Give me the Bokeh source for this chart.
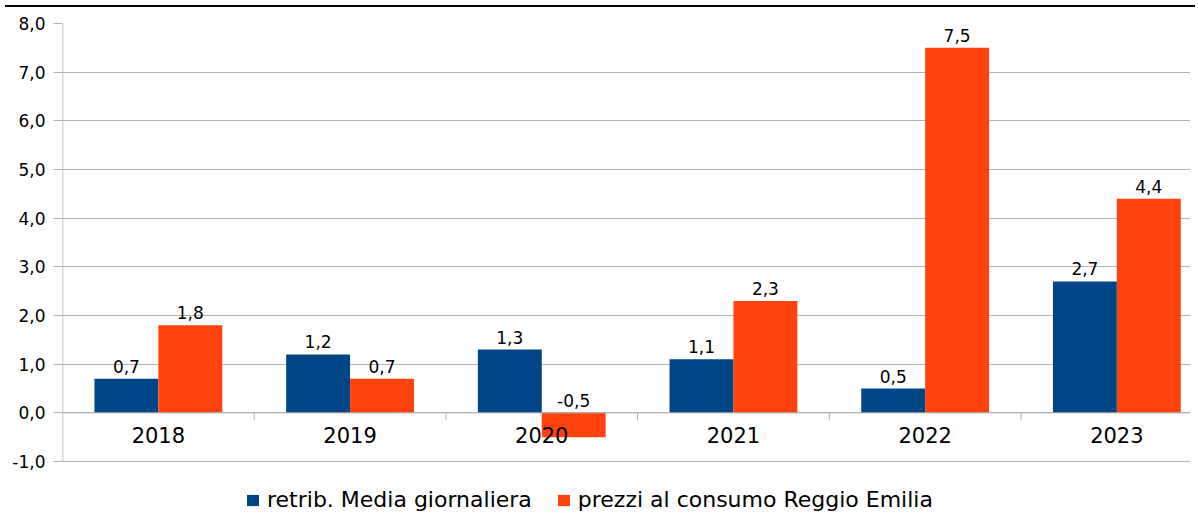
from bokeh.plotting import figure
from bokeh.models import ColumnDataSource, Legend, LegendItem, FixedTicker, Div
from bokeh.layouts import column
from bokeh.core.properties import value
from bokeh.embed import file_html
from bokeh.resources import INLINE

years = ["2018", "2019", "2020", "2021", "2022", "2023"]
retrib = [0.7, 1.2, 1.3, 1.1, 0.5, 2.7]
prezzi = [1.8, 0.7, -0.5, 2.3, 7.5, 4.4]
series_names = ["retrib. Media giornaliera", "prezzi al consumo Reggio Emilia"]
yticks = [-1, 0, 1, 2, 3, 4, 5, 6, 7, 8]

BLUE = "#004586"
ORANGE = "#ff420e"
GRID = "#b3b3b3"

idx = list(range(len(years)))
bw = 1 / 3
xb = [i + 0.5 - bw / 2 for i in idx]
xo = [i + 0.5 + bw / 2 for i in idx]

def fmt(v):
    return f"{v:.1f}".replace(".", ",")

src_b = ColumnDataSource(dict(x=xb, top=retrib, lab=[fmt(v) for v in retrib],
                              ly=[max(v, 0) for v in retrib]))
src_o = ColumnDataSource(dict(x=xo, top=prezzi, lab=[fmt(v) for v in prezzi],
                              ly=[max(v, 0) for v in prezzi]))
src_c = ColumnDataSource(dict(x=[i + 0.5 for i in idx], y=[-0.45] * len(years), t=years))

W = 1190
H = 510
LEFT = 62
TOP = 11
frame_w = W - LEFT
cat_px = 191.7
px_per_unit = 48.67
y_lo = 8 - (H - TOP) / px_per_unit

p = figure(width=W, height=H, output_backend="svg", toolbar_location=None,
           x_range=(0, frame_w / cat_px), y_range=(y_lo, 8), x_axis_type=None,
           min_border_left=LEFT, min_border_right=0, min_border_top=TOP,
           min_border_bottom=0)
p.outline_line_color = None
p.background_fill_color = "white"

p.ygrid.ticker = FixedTicker(ticks=yticks)
p.ygrid.grid_line_color = GRID
p.ygrid.grid_line_width = 1
p.xgrid.grid_line_color = None

yax = p.yaxis[0]
yax.ticker = FixedTicker(ticks=yticks)
yax.major_label_overrides = {t: fmt(float(t)) for t in yticks}
yax.axis_line_color = None
yax.major_tick_line_color = GRID
yax.major_tick_out = 9
yax.major_tick_in = 0
yax.minor_tick_line_color = None
yax.major_label_text_font = "DejaVu Sans"
yax.major_label_text_font_size = "17px"
yax.major_label_text_color = "black"
yax.major_label_standoff = 8

p.segment(x0=0, x1=0, y0=yticks[0], y1=yticks[-1], line_color=GRID, line_width=1.5)

rb = p.vbar(x="x", top="top", bottom=0, width=bw, source=src_b, fill_color=BLUE, line_color=None)
ro = p.vbar(x="x", top="top", bottom=0, width=bw, source=src_o, fill_color=ORANGE, line_color=None)

p.segment(x0=0, x1=len(years), y0=0, y1=0, line_color=GRID, line_width=1)
p.segment(x0=[i for i in idx[1:]], x1=[i for i in idx[1:]], y0=0, y1=-0.15,
          line_color=GRID, line_width=1)

for s in (src_b, src_o):
    p.text(x="x", y="ly", text="lab", source=s, text_align="center", text_baseline="bottom",
           y_offset=-6, text_font=value("DejaVu Sans"), text_font_size="17px", text_color="black")

p.text(x="x", y="y", text="t", source=src_c, text_align="center", text_baseline="middle",
       text_font=value("DejaVu Sans"), text_font_size="21px", text_color="black")

legend = Legend(items=[LegendItem(label=series_names[0], renderers=[rb]),
                       LegendItem(label=series_names[1], renderers=[ro])],
                orientation="horizontal", location=(183, 10))
legend.label_text_font = "DejaVu Sans"
legend.label_text_font_size = "22px"
legend.label_text_color = "black"
legend.glyph_width = 15
legend.glyph_height = 14
legend.spacing = 24
legend.border_line_color = None
legend.background_fill_alpha = 0
legend.margin = 0
legend.padding = 0
legend.label_standoff = 7
p.add_layout(legend)

top_line = Div(width=W, height=2, styles={"background-color": "black"})
layout = column(top_line, p, spacing=0)

open("out.html", "w").write(file_html(layout, INLINE))
